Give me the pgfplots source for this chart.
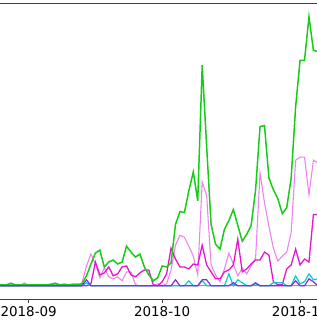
\documentclass[border=0pt]{standalone}
\usepackage{pgfplots}
\pgfplotsset{compat=1.18}
\usepackage{fontspec}
\setmainfont{DejaVu Sans}
\definecolor{cgreen}{RGB}{20,205,20}
\definecolor{cviolet}{RGB}{238,130,238}
\definecolor{cmagenta}{RGB}{230,20,205}
\definecolor{ccyan}{RGB}{0,206,209}
\definecolor{cpurple}{RGB}{138,43,226}
\definecolor{cgrey}{RGB}{150,150,150}
\begin{document}
\begin{tikzpicture}[trim left=0pt, trim right=320pt]
\begin{axis}[
  at={(-25pt,0pt)}, anchor=south west,
  scale only axis, width=373.5pt, height=300pt,
  xmin=-12, xmax=71, ymin=-14, ymax=286,
  axis line style={black!75, line width=0.8pt},
  ytick=\empty,
  xtick={0,30,61},
  xticklabels={2018-09,2018-10,2018-11},
  xtick pos=bottom,
  tick align=outside,
  major tick length=3.5pt,
  tick style={black!75, line width=0.8pt},
  ticklabel style={font=\fontsize{13.6}{16}\selectfont},
  clip=true,
]
\addplot[cgrey, line width=1pt] coordinates {
(-7,0) (-6,1) (-5,1) (-4,3) (-3,1) (-2,1) (-1,1) (0,1) (1,1) (2,1) (3,1) (4,1) (5,2) (6,3) (7,1) (8,2) (9,1) (10,2) (11,2) (12,1) (13,0) (14,0) (20,0) (40,0) (66,0)
};
\addplot[cviolet, line width=1.1pt] coordinates {
(-7,0) (-6,0) (-5,0) (-4,0) (-3,0) (-2,0) (-1,3) (0,0) (1,0) (2,0) (3,0) (4,0) (5,0) (6,0) (7,0) (8,0) (9,0) (10,0) (11,0)
(12,3) (13,20) (14,32) (15,22) (16,8) (17,18) (18,9) (19,7) (20,9) (21,5) (22,14) (23,14) (24,1) (25,0) (26,0) (27,0) (28,0) (29,2) (30,0)
(31,2) (32,16) (33,41) (34,51) (35,49) (36,40) (37,30) (38,11) (39,105) (40,91) (41,21) (42,11) (43,4) (44,17) (45,33) (46,22) (47,10) (48,18) (49,12) (50,20)
(51,28) (52,114) (53,84) (54,60) (55,38) (56,25) (57,30) (58,34) (59,54) (60,127) (61,130) (62,130) (63,92) (64,127) (65,124) (66,120)
};
\addplot[cmagenta, line width=1.3pt] coordinates {
(-7,0) (13,0) (14,2) (15,24) (16,11) (17,13) (18,19) (19,10) (20,12) (21,19) (22,20) (23,11) (24,9) (25,13) (26,16) (27,16) (28,1) (29,0) (30,4)
(31,12) (32,38) (33,27) (34,19) (35,19) (36,17) (37,22) (38,21) (39,41) (40,21) (41,14) (42,7) (43,7) (44,14) (45,16) (46,21) (47,47) (48,14) (49,17) (50,22)
(51,26) (52,26) (53,34) (54,31) (55,4) (56,1) (57,1) (58,17) (59,21) (60,37) (61,21) (62,27) (63,24) (64,72) (65,72) (66,70)
};
\addplot[cgreen, line width=1.5pt] coordinates {
(-7,1) (-6,1) (-5,1) (-4,2) (-3,1) (-2,1) (-1,1) (0,1) (1,1) (2,1) (3,1) (4,1) (5,1) (6,2) (7,1) (8,1) (9,1) (10,1) (11,1)
(12,2) (13,10) (14,22) (15,33) (16,36) (17,19) (18,24) (19,26) (20,22) (21,24) (22,40) (23,34) (24,29) (25,32) (26,19) (27,11) (28,5) (29,8) (30,20)
(31,19) (32,23) (33,62) (34,75) (35,74) (36,96) (37,115) (38,86) (39,223) (40,141) (41,62) (42,42) (43,37) (44,57) (45,66) (46,77) (47,61) (48,45) (49,52) (50,61)
(51,97) (52,161) (53,162) (54,109) (55,97) (56,88) (57,73) (58,79) (59,109) (60,181) (61,228) (62,228) (63,272) (64,238) (65,237) (66,230)
};
\addplot[ccyan, line width=1.2pt] coordinates {
(-7,0) (12,0) (13,3) (14,0) (35,0) (36,5) (37,0) (38,0) (39,5) (40,0) (44,0) (45,12) (46,0) (47,6) (48,3) (49,0) (50,0) (51,2) (52,0) (54,0) (55,3) (56,3) (57,3) (58,0) (59,0) (60,10) (61,2) (62,4) (63,12) (64,6) (65,7) (66,5)
};
\addplot[cpurple, line width=1.2pt] coordinates {
(-7,0) (12,0) (13,6) (14,0) (32,0) (33,6) (34,0) (38,0) (39,6) (40,6) (41,0) (45,0) (46,3) (47,0) (50,0) (51,3) (52,0) (59,0) (60,5) (61,0) (62,0) (63,7) (64,4) (65,0) (66,0)
};
\end{axis}
\path (0,303pt) (0,-17pt);
\end{tikzpicture}
\end{document}
